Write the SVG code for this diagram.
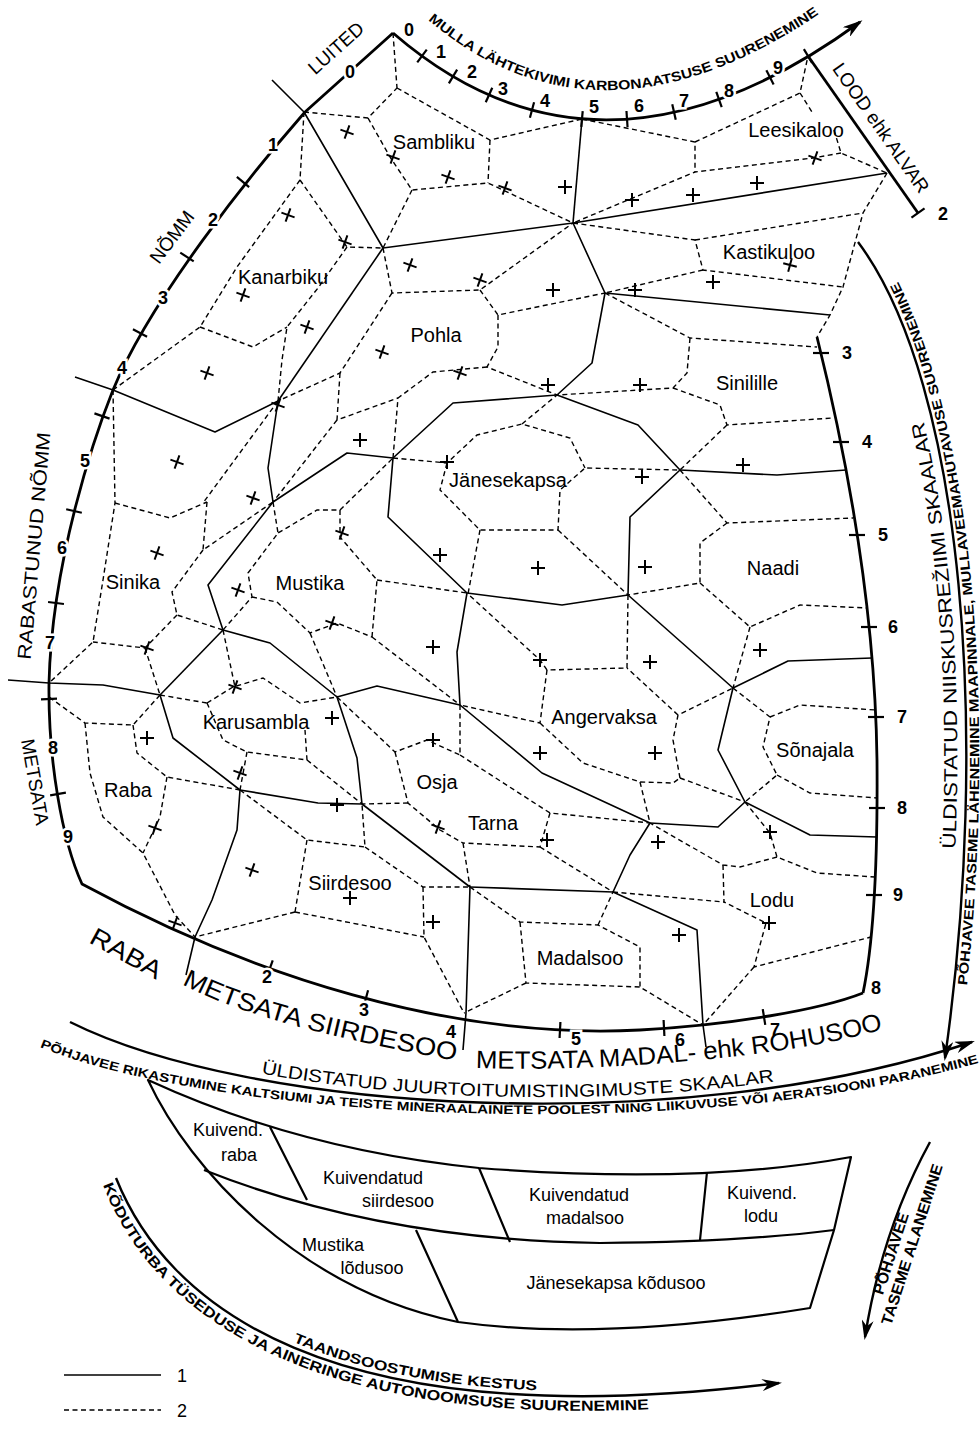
<svg xmlns="http://www.w3.org/2000/svg" width="980" height="1429" viewBox="0 0 980 1429">
<defs>
<style>
.b{fill:none;stroke:#000;stroke-width:2.8;stroke-linejoin:round}
.a{fill:none;stroke:#000;stroke-width:2.4}
.s{fill:none;stroke:#000;stroke-width:1.6;stroke-linejoin:round}
.d{fill:none;stroke:#000;stroke-width:1.4;stroke-dasharray:5 3.5}
.bxl{fill:none;stroke:#000;stroke-width:2.2;stroke-linejoin:round}
.tk{stroke:#000;stroke-width:2.2;fill:none}
.cr{stroke:#000;stroke-width:2;fill:none}
text{font-family:"Liberation Sans",Arial,sans-serif;fill:#000}
.l{font-size:20px;text-anchor:middle}
.bx{font-size:18px;text-anchor:middle}
.n{font-size:18px;font-weight:bold;text-anchor:middle;dominant-baseline:central;stroke:#fff;stroke-width:5;paint-order:stroke}
.m{font-size:19px;text-anchor:middle;dominant-baseline:central}
.c{font-weight:bold}
.big{font-size:25px}
</style>
<path id="tk" d="M0 -8V8"/>
<path id="x" d="M-7 0H7M0 -7V7"/>
<marker id="ah" viewBox="0 0 20 12" refX="17" refY="6" markerWidth="20" markerHeight="12" markerUnits="userSpaceOnUse" orient="auto"><path d="M0 0L20 6L0 12L6 6Z" fill="#000"/></marker>
<path id="p_top" d="M428 20Q600 165 825 10"/>
<path id="p_ud" d="M70 1017C250 1105 680 1133 972 1037"/>
<path id="p_ph" d="M40 1047C205 1116 680 1149 985 1061"/>
<path id="p_rb" d="M88 942L157 980"/>
<path id="p_ms" d="M182 984C260 1026 400 1050 462 1062"/>
<path id="p_mm" d="M476 1068C590 1072 780 1060 888 1028"/>
<path id="p_kd" d="M103 1185C150 1310 315 1455 779 1398"/>
<path id="p_ta" d="M120 1176C169 1296 323 1435 779 1378"/>
<path id="p_ri" d="M936 1058C981 740 956 385 849 242"/>
<path id="p_ro" d="M958 1058C1003 740 978 380 869 234"/>
</defs>
<rect width="980" height="1429" fill="#fff"/>

<g id="connectors">
<g id="boundary">
<path class="b" d="M393 33L305 112C250 175 150 300 113 390C95 435 52 560 49 683C48 760 62 840 82 884C250 975 450 1040 640 1030C730 1025 820 1010 863 993"/>
<path class="b" d="M817 337C845 450 875 600 877 760C878 880 872 950 863 993"/>
<path class="b" d="M393 33Q600 212 860 22" marker-end="url(#ah)"/>
<path class="b" d="M808 56L918 213"/>
</g>
<g id="ticks">
<use href="#tk" class="tk" transform="translate(918 213) rotate(55)"/>
<use href="#tk" class="tk" transform="translate(422 56) rotate(36.5)"/>
<use href="#tk" class="tk" transform="translate(453 76.5) rotate(31)"/>
<use href="#tk" class="tk" transform="translate(489 95) rotate(24)"/>
<use href="#tk" class="tk" transform="translate(532 110) rotate(15)"/>
<use href="#tk" class="tk" transform="translate(582 119) rotate(5)"/>
<use href="#tk" class="tk" transform="translate(627 119) rotate(-4)"/>
<use href="#tk" class="tk" transform="translate(674 112) rotate(-12.6)"/>
<use href="#tk" class="tk" transform="translate(719 99.5) rotate(-19.7)"/>
<use href="#tk" class="tk" transform="translate(770 77.4) rotate(-27)"/>
<use href="#tk" class="tk" transform="translate(808 56) rotate(-31)"/>
<use href="#tk" class="tk" transform="translate(243 182) rotate(130)"/>
<use href="#tk" class="tk" transform="translate(187 257) rotate(123)"/>
<use href="#tk" class="tk" transform="translate(140 333) rotate(118)"/>
<use href="#tk" class="tk" transform="translate(102 416) rotate(109)"/>
<use href="#tk" class="tk" transform="translate(74 511) rotate(103)"/>
<use href="#tk" class="tk" transform="translate(56 603) rotate(97)"/>
<use href="#tk" class="tk" transform="translate(49 699) rotate(88)"/>
<use href="#tk" class="tk" transform="translate(58 794) rotate(80)"/>
<use href="#tk" class="tk" transform="translate(821 353) rotate(90)"/>
<use href="#tk" class="tk" transform="translate(841 442) rotate(90)"/>
<use href="#tk" class="tk" transform="translate(857 535) rotate(90)"/>
<use href="#tk" class="tk" transform="translate(869 627) rotate(90)"/>
<use href="#tk" class="tk" transform="translate(876 717) rotate(90)"/>
<use href="#tk" class="tk" transform="translate(877 808) rotate(90)"/>
<use href="#tk" class="tk" transform="translate(874 895) rotate(90)"/>
<use href="#tk" class="tk" transform="translate(270 968) rotate(20)"/>
<use href="#tk" class="tk" transform="translate(366 998) rotate(15)"/>
<use href="#tk" class="tk" transform="translate(560 1030) rotate(3)"/>
<use href="#tk" class="tk" transform="translate(664 1028) rotate(-3)"/>
<use href="#tk" class="tk" transform="translate(764 1017) rotate(-9)"/>
</g>
<g id="solid">
<polyline class="s" points="272,80 304,112 383,248"/>
<polyline class="s" points="383,248 573,223"/>
<polyline class="s" points="582,119 573,223"/>
<polyline class="s" points="573,223 887,173"/>
<polyline class="s" points="573,223 605,293 830,315"/>
<polyline class="s" points="605,293 592,363 557,395"/>
<polyline class="s" points="383,248 278,401"/>
<polyline class="s" points="75,377 113,390 215,432 278,401"/>
<polyline class="s" points="278,401 268,468 273,502"/>
<polyline class="s" points="273,502 347,453 393,458"/>
<polyline class="s" points="393,458 453,403 557,395"/>
<polyline class="s" points="393,458 388,517 467,593"/>
<polyline class="s" points="557,395 638,425 680,470"/>
<polyline class="s" points="680,470 777,475 846,470"/>
<polyline class="s" points="680,470 630,517 628,595"/>
<polyline class="s" points="628,595 562,605 467,593"/>
<polyline class="s" points="628,595 733,688"/>
<polyline class="s" points="733,688 788,661 872,658"/>
<polyline class="s" points="733,688 718,750 745,802"/>
<polyline class="s" points="745,802 810,835 877,837"/>
<polyline class="s" points="745,802 718,827 650,823"/>
<polyline class="s" points="650,823 542,773 460,705"/>
<polyline class="s" points="650,823 630,855 613,892"/>
<polyline class="s" points="467,593 457,652 460,705"/>
<polyline class="s" points="460,705 377,686 337,697"/>
<polyline class="s" points="337,697 270,643 223,630"/>
<polyline class="s" points="273,502 208,585 223,630"/>
<polyline class="s" points="223,630 160,695"/>
<polyline class="s" points="8,680 49,683 103,685 160,695"/>
<polyline class="s" points="160,695 173,738 240,790"/>
<polyline class="s" points="240,790 237,830 212,900 195,937 186,975"/>
<polyline class="s" points="240,790 318,803 362,804"/>
<polyline class="s" points="337,697 357,758 362,804"/>
<polyline class="s" points="362,804 470,887"/>
<polyline class="s" points="470,887 613,892"/>
<polyline class="s" points="470,887 466,1013 463,1050"/>
<polyline class="s" points="613,892 697,930 703,1025 706,1047"/>
</g>
<g id="dashed">
<polyline class="d" points="393,33 397,88"/>
<polyline class="d" points="304,112 368,118 397,88"/>
<polyline class="d" points="397,88 490,140 582,119"/>
<polyline class="d" points="490,140 488,183"/>
<polyline class="d" points="368,118 390,157 412,190 488,183 573,223"/>
<polyline class="d" points="412,190 383,248"/>
<polyline class="d" points="304,112 300,180 347,247 383,248"/>
<polyline class="d" points="300,180 237,267 200,327 113,390"/>
<polyline class="d" points="200,327 253,347 287,327"/>
<polyline class="d" points="347,247 318,288 287,327 282,360 278,401"/>
<polyline class="d" points="383,248 392,293 480,290 573,223"/>
<polyline class="d" points="480,290 498,315 605,293"/>
<polyline class="d" points="498,315 498,347 487,367 557,395"/>
<polyline class="d" points="487,367 433,372 398,398 393,458"/>
<polyline class="d" points="392,293 340,373 278,401"/>
<polyline class="d" points="340,373 337,420 398,398"/>
<polyline class="d" points="337,420 273,502"/>
<polyline class="d" points="278,401 203,503"/>
<polyline class="d" points="113,390 115,503 103,580 93,642 49,683"/>
<polyline class="d" points="115,503 170,518 207,502"/>
<polyline class="d" points="207,502 203,550 273,502"/>
<polyline class="d" points="203,550 172,592 177,615 223,630"/>
<polyline class="d" points="177,615 145,648 93,642"/>
<polyline class="d" points="145,648 160,695"/>
<polyline class="d" points="160,695 133,725 85,723 49,697"/>
<polyline class="d" points="85,723 90,773 103,817 143,853 175,915 195,937"/>
<polyline class="d" points="133,725 137,753 167,777 240,790"/>
<polyline class="d" points="167,777 160,817 143,853"/>
<polyline class="d" points="160,695 207,703"/>
<polyline class="d" points="207,703 233,687 263,678 300,703 337,697"/>
<polyline class="d" points="207,703 223,740 247,752 307,760 305,730"/>
<polyline class="d" points="247,752 240,790"/>
<polyline class="d" points="307,760 362,804"/>
<polyline class="d" points="223,630 235,687"/>
<polyline class="d" points="273,502 278,533 248,573 252,597 223,630"/>
<polyline class="d" points="252,597 277,602 310,633 337,623 372,637"/>
<polyline class="d" points="372,637 377,580 340,537 340,510 317,510 278,533"/>
<polyline class="d" points="340,510 393,458"/>
<polyline class="d" points="377,580 467,593"/>
<polyline class="d" points="372,637 460,705"/>
<polyline class="d" points="310,633 337,697"/>
<polyline class="d" points="337,697 395,752 427,740 460,755"/>
<polyline class="d" points="395,752 408,803 440,830 463,843"/>
<polyline class="d" points="408,803 362,804"/>
<polyline class="d" points="460,705 460,755"/>
<polyline class="d" points="393,458 447,463 477,435 522,424 570,438 585,468"/>
<polyline class="d" points="522,424 557,395"/>
<polyline class="d" points="447,463 440,490 480,530 558,530 560,490 585,468 680,470"/>
<polyline class="d" points="480,530 468,594"/>
<polyline class="d" points="558,530 628,595"/>
<polyline class="d" points="582,119 695,142 695,172"/>
<polyline class="d" points="695,142 800,93 808,56"/>
<polyline class="d" points="800,93 812,112"/>
<polyline class="d" points="834,130 841,153 887,173"/>
<polyline class="d" points="841,153 813,158 695,172 573,223"/>
<polyline class="d" points="573,223 695,240 703,270 843,287"/>
<polyline class="d" points="695,240 863,213"/>
<polyline class="d" points="887,173 863,213 843,287 830,315 817,337"/>
<polyline class="d" points="703,270 605,293"/>
<polyline class="d" points="605,293 690,338 817,347"/>
<polyline class="d" points="690,338 687,373 673,388 557,395"/>
<polyline class="d" points="673,388 720,405 727,425 833,418"/>
<polyline class="d" points="727,425 680,470"/>
<polyline class="d" points="680,470 727,523 853,518"/>
<polyline class="d" points="727,523 700,543 700,583 628,595"/>
<polyline class="d" points="700,583 750,627 800,605 867,608"/>
<polyline class="d" points="750,627 733,688"/>
<polyline class="d" points="628,595 627,668 547,670 540,660 468,594"/>
<polyline class="d" points="547,670 540,723 460,705"/>
<polyline class="d" points="540,723 583,763 640,782 673,783 680,778"/>
<polyline class="d" points="680,778 673,740 678,715 733,688"/>
<polyline class="d" points="678,715 627,668"/>
<polyline class="d" points="640,782 650,823"/>
<polyline class="d" points="680,778 745,802"/>
<polyline class="d" points="733,688 770,717 763,747 777,775 745,802"/>
<polyline class="d" points="770,717 800,705 876,710"/>
<polyline class="d" points="777,775 810,793 877,798"/>
<polyline class="d" points="745,802 770,833 777,857 817,873 875,877"/>
<polyline class="d" points="777,857 740,867 723,865 650,823"/>
<polyline class="d" points="723,865 724,902 766,923 754,967 871,937"/>
<polyline class="d" points="613,892 724,902"/>
<polyline class="d" points="754,967 703,1025"/>
<polyline class="d" points="460,755 550,813 650,823"/>
<polyline class="d" points="550,813 540,847 463,843"/>
<polyline class="d" points="540,847 613,892"/>
<polyline class="d" points="463,843 470,887"/>
<polyline class="d" points="240,790 307,840 365,847 362,804"/>
<polyline class="d" points="307,840 295,912"/>
<polyline class="d" points="295,912 195,937"/>
<polyline class="d" points="295,912 424,937"/>
<polyline class="d" points="365,847 423,887 470,887"/>
<polyline class="d" points="423,887 424,937 464,1013"/>
<polyline class="d" points="470,887 520,922 598,925 640,947 640,987 703,1025"/>
<polyline class="d" points="520,922 526,983 640,987"/>
<polyline class="d" points="526,983 464,1013"/>
<polyline class="d" points="598,925 613,892"/>
</g>
<g id="crosses">
<use href="#x" class="cr" transform="translate(347 132) rotate(20)"/>
<use href="#x" class="cr" transform="translate(393 157) rotate(20)"/>
<use href="#x" class="cr" transform="translate(448 177) rotate(20)"/>
<use href="#x" class="cr" transform="translate(505 188) rotate(20)"/>
<use href="#x" class="cr" transform="translate(288 215) rotate(20)"/>
<use href="#x" class="cr" transform="translate(345 242) rotate(20)"/>
<use href="#x" class="cr" transform="translate(243 295) rotate(20)"/>
<use href="#x" class="cr" transform="translate(307 327) rotate(20)"/>
<use href="#x" class="cr" transform="translate(207 373) rotate(20)"/>
<use href="#x" class="cr" transform="translate(410 265) rotate(20)"/>
<use href="#x" class="cr" transform="translate(480 280) rotate(20)"/>
<use href="#x" class="cr" transform="translate(553 290)"/>
<use href="#x" class="cr" transform="translate(382 352) rotate(20)"/>
<use href="#x" class="cr" transform="translate(460 373) rotate(20)"/>
<use href="#x" class="cr" transform="translate(548 385)"/>
<use href="#x" class="cr" transform="translate(278 405) rotate(20)"/>
<use href="#x" class="cr" transform="translate(177 462) rotate(20)"/>
<use href="#x" class="cr" transform="translate(360 440)"/>
<use href="#x" class="cr" transform="translate(447 462)"/>
<use href="#x" class="cr" transform="translate(253 498) rotate(20)"/>
<use href="#x" class="cr" transform="translate(565 187)"/>
<use href="#x" class="cr" transform="translate(632 200)"/>
<use href="#x" class="cr" transform="translate(693 195)"/>
<use href="#x" class="cr" transform="translate(757 183)"/>
<use href="#x" class="cr" transform="translate(815 158) rotate(20)"/>
<use href="#x" class="cr" transform="translate(790 265) rotate(15)"/>
<use href="#x" class="cr" transform="translate(713 282)"/>
<use href="#x" class="cr" transform="translate(635 290)"/>
<use href="#x" class="cr" transform="translate(640 385)"/>
<use href="#x" class="cr" transform="translate(743 465)"/>
<use href="#x" class="cr" transform="translate(642 477)"/>
<use href="#x" class="cr" transform="translate(157 553) rotate(20)"/>
<use href="#x" class="cr" transform="translate(238 590) rotate(20)"/>
<use href="#x" class="cr" transform="translate(342 533) rotate(20)"/>
<use href="#x" class="cr" transform="translate(440 555)"/>
<use href="#x" class="cr" transform="translate(332 623) rotate(20)"/>
<use href="#x" class="cr" transform="translate(433 647)"/>
<use href="#x" class="cr" transform="translate(147 648) rotate(20)"/>
<use href="#x" class="cr" transform="translate(235 687) rotate(20)"/>
<use href="#x" class="cr" transform="translate(332 718)"/>
<use href="#x" class="cr" transform="translate(433 740)"/>
<use href="#x" class="cr" transform="translate(147 738)"/>
<use href="#x" class="cr" transform="translate(240 773) rotate(20)"/>
<use href="#x" class="cr" transform="translate(155 828) rotate(20)"/>
<use href="#x" class="cr" transform="translate(337 805)"/>
<use href="#x" class="cr" transform="translate(438 827) rotate(20)"/>
<use href="#x" class="cr" transform="translate(252 870) rotate(20)"/>
<use href="#x" class="cr" transform="translate(350 898)"/>
<use href="#x" class="cr" transform="translate(538 568)"/>
<use href="#x" class="cr" transform="translate(645 567)"/>
<use href="#x" class="cr" transform="translate(540 660)"/>
<use href="#x" class="cr" transform="translate(650 662)"/>
<use href="#x" class="cr" transform="translate(760 650)"/>
<use href="#x" class="cr" transform="translate(540 753)"/>
<use href="#x" class="cr" transform="translate(655 753)"/>
<use href="#x" class="cr" transform="translate(547 840)"/>
<use href="#x" class="cr" transform="translate(658 842)"/>
<use href="#x" class="cr" transform="translate(770 832)"/>
<use href="#x" class="cr" transform="translate(433 922)"/>
<use href="#x" class="cr" transform="translate(679 935)"/>
<use href="#x" class="cr" transform="translate(769 923)"/>
<use href="#x" class="cr" transform="translate(175 923) rotate(20)"/>
</g>
<g id="arrows">
<path class="a" d="M70 1022C250 1112 680 1140 972 1042" marker-end="url(#ah)"/>
<path class="a" d="M858 242C965 385 990 740 945 1058" marker-end="url(#ah)"/>
<path class="a" d="M116 1178C165 1300 320 1440 779 1383" marker-end="url(#ah)"/>
<path class="a" d="M930 1142Q882 1230 865 1337" marker-end="url(#ah)"/>
</g>
</g>

<g id="scale-numbers">
<text class="n" x="409" y="30">0</text>
<text class="n" x="441" y="52">1</text>
<text class="n" x="472" y="72">2</text>
<text class="n" x="503" y="89">3</text>
<text class="n" x="545" y="101">4</text>
<text class="n" x="594" y="107">5</text>
<text class="n" x="639" y="106">6</text>
<text class="n" x="684" y="101">7</text>
<text class="n" x="729" y="91">8</text>
<text class="n" x="778" y="68">9</text>
<text class="n" x="943" y="214">2</text>
<text class="n" x="350" y="72">0</text>
<text class="n" x="273" y="145">1</text>
<text class="n" x="213" y="220">2</text>
<text class="n" x="163" y="298">3</text>
<text class="n" x="122" y="368">4</text>
<text class="n" x="85" y="461">5</text>
<text class="n" x="62" y="548">6</text>
<text class="n" x="50" y="643">7</text>
<text class="n" x="53" y="748">8</text>
<text class="n" x="68" y="837">9</text>
<text class="n" x="847" y="353">3</text>
<text class="n" x="867" y="442">4</text>
<text class="n" x="883" y="535">5</text>
<text class="n" x="893" y="627">6</text>
<text class="n" x="902" y="717">7</text>
<text class="n" x="902" y="808">8</text>
<text class="n" x="898" y="895">9</text>
<text class="n" x="267" y="977">2</text>
<text class="n" x="364" y="1010">3</text>
<text class="n" x="451" y="1032">4</text>
<text class="n" x="576" y="1039">5</text>
<text class="n" x="680" y="1040">6</text>
<text class="n" x="775" y="1030">7</text>
<text class="n" x="876" y="988">8</text>
</g>

<g id="scale-titles">
<text class="m" transform="translate(336 48) rotate(-42)">LUITED</text>
<text class="m" transform="translate(172 237) rotate(-53)">NÕMM</text>
<text class="m" transform="translate(34 546) rotate(-85)" textLength="228" lengthAdjust="spacingAndGlyphs">RABASTUNUD NÕMM</text>
<text class="m" transform="translate(35 782) rotate(80)">METSATA</text>
<text class="m" transform="translate(881 128) rotate(55)">LOOD ehk ALVAR</text>
<text class="c" font-size="13.5"><textPath href="#p_top" textLength="425" lengthAdjust="spacingAndGlyphs">MULLA LÄHTEKIVIMI KARBONAATSUSE SUURENEMINE</textPath></text>
<text class="big"><textPath href="#p_rb" textLength="78" lengthAdjust="spacingAndGlyphs">RABA</textPath></text>
<text class="big"><textPath href="#p_ms" textLength="285" lengthAdjust="spacingAndGlyphs">METSATA SIIRDESOO</textPath></text>
<text class="big"><textPath href="#p_mm" textLength="410" lengthAdjust="spacingAndGlyphs">METSATA MADAL- ehk ROHUSOO</textPath></text>
<text font-size="18"><textPath href="#p_ud" startOffset="200" textLength="515" lengthAdjust="spacingAndGlyphs">ÜLDISTATUD JUURTOITUMISTINGIMUSTE SKAALAR</textPath></text>
<text class="c" font-size="12.5"><textPath href="#p_ph" textLength="950" lengthAdjust="spacingAndGlyphs">PÕHJAVEE RIKASTUMINE KALTSIUMI JA TEISTE MINERAALAINETE POOLEST NING LIIKUVUSE VÕI AERATSIOONI PARANEMINE</textPath></text>
<text font-size="19"><textPath href="#p_ri" startOffset="210" textLength="430" lengthAdjust="spacingAndGlyphs">ÜLDISTATUD NIISKUSREŽIIMI SKAALAR</textPath></text>
<text class="c" font-size="13.5"><textPath href="#p_ro" startOffset="73" textLength="715" lengthAdjust="spacingAndGlyphs">PÕHJAVEE TASEME LÄHENEMINE MAAPINNALE, MULLAVEEMAHUTAVUSE SUURENEMINE</textPath></text>
<text class="c" font-size="14.5"><textPath href="#p_kd" textLength="630" lengthAdjust="spacingAndGlyphs">KÕDUTURBA TÜSEDUSE JA AINERINGE AUTONOOMSUSE SUURENEMINE</textPath></text>
<text class="c" font-size="14"><textPath href="#p_ta" startOffset="246" textLength="250" lengthAdjust="spacingAndGlyphs">TAANDSOOSTUMISE KESTUS</textPath></text>
<text class="c" font-size="15.5" text-anchor="middle" transform="translate(896 1255) rotate(-72)" textLength="85" lengthAdjust="spacingAndGlyphs">PÕHJAVEE</text>
<text class="c" font-size="15.5" text-anchor="middle" transform="translate(917 1246) rotate(-72)" textLength="168" lengthAdjust="spacingAndGlyphs">TASEME ALANEMINE</text>
</g>

<g id="n-sambliku"><text class="l" x="434" y="149">Sambliku</text></g>
<g id="n-leesikaloo"><text class="l" x="796" y="137">Leesikaloo</text></g>
<g id="n-kanarbiku"><text class="l" x="283" y="284">Kanarbiku</text></g>
<g id="n-kastikuloo"><text class="l" x="769" y="259">Kastikuloo</text></g>
<g id="n-pohla"><text class="l" x="436" y="342">Pohla</text></g>
<g id="n-sinilille"><text class="l" x="747" y="390">Sinilille</text></g>
<g id="n-janesekapsa"><text class="l" x="508" y="487">Jänesekapsa</text></g>
<g id="n-naadi"><text class="l" x="773" y="575">Naadi</text></g>
<g id="n-sinika"><text class="l" x="133" y="589">Sinika</text></g>
<g id="n-mustika"><text class="l" x="310" y="590">Mustika</text></g>
<g id="n-karusambla"><text class="l" x="256" y="729">Karusambla</text></g>
<g id="n-angervaksa"><text class="l" x="604" y="724">Angervaksa</text></g>
<g id="n-sonajala"><text class="l" x="815" y="757">Sõnajala</text></g>
<g id="n-raba"><text class="l" x="128" y="797">Raba</text></g>
<g id="n-osja"><text class="l" x="437" y="789">Osja</text></g>
<g id="n-tarna"><text class="l" x="493" y="830">Tarna</text></g>
<g id="n-siirdesoo"><text class="l" x="350" y="890">Siirdesoo</text></g>
<g id="n-lodu"><text class="l" x="772" y="907">Lodu</text></g>
<g id="n-madalsoo"><text class="l" x="580" y="965">Madalsoo</text></g>

<g id="drained-box">
<path class="bxl" d="M148 1080Q300 1150 479 1168Q700 1185 851 1157L834 1230L810 1308Q600 1342 458 1322C300 1290 190 1170 148 1080Z"/>
<path class="bxl" d="M204 1170Q380 1240 600 1243Q740 1242 834 1230"/>
<path class="bxl" d="M270 1127L307 1200M479 1168L510 1242M707 1172L700 1240M416 1230L458 1322"/>
</g>
<g id="n-kuivend-raba"><text class="bx" x="228" y="1136">Kuivend.</text><text class="bx" x="239" y="1161">raba</text></g>
<g id="n-kuiv-siirdesoo"><text class="bx" x="373" y="1184">Kuivendatud</text><text class="bx" x="398" y="1207">siirdesoo</text></g>
<g id="n-kuiv-madalsoo"><text class="bx" x="579" y="1201">Kuivendatud</text><text class="bx" x="585" y="1224">madalsoo</text></g>
<g id="n-kuivend-lodu"><text class="bx" x="762" y="1199">Kuivend.</text><text class="bx" x="761" y="1222">lodu</text></g>
<g id="n-mustika-lodusoo"><text class="bx" x="333" y="1251">Mustika</text><text class="bx" x="372" y="1274">lõdusoo</text></g>
<g id="n-janesekapsa-kodusoo"><text class="bx" x="616" y="1289">Jänesekapsa kõdusoo</text></g>

<g id="legend">
<line class="s" x1="64" y1="1375" x2="161" y2="1375" stroke-width="2"/>
<line class="d" x1="64" y1="1410" x2="161" y2="1410" stroke-width="2"/>
<text x="182" y="1382" font-size="18" text-anchor="middle">1</text>
<text x="182" y="1417" font-size="18" text-anchor="middle">2</text>
</g>
</svg>
